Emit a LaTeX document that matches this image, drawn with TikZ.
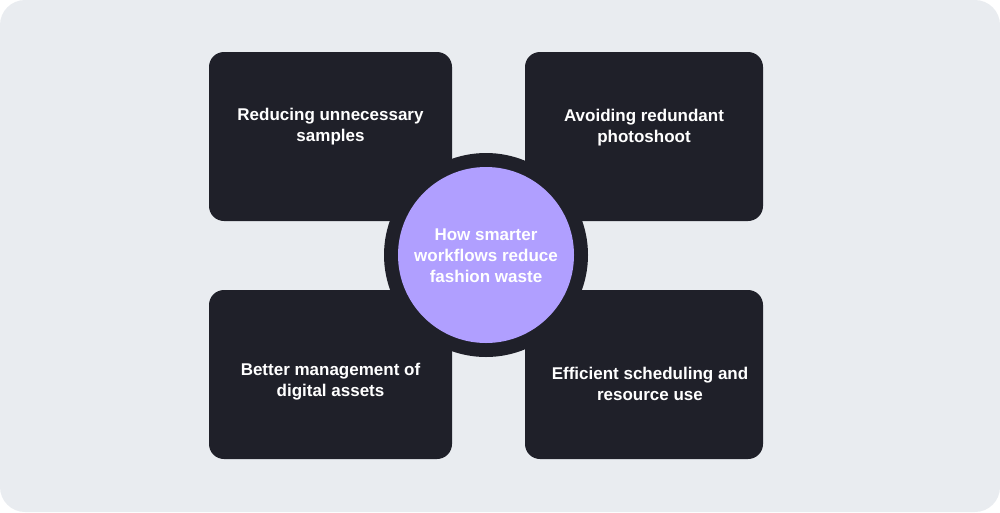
\documentclass[tikz,border=0pt]{standalone}
\usepackage{fontspec}
\setmainfont{Liberation Sans}
\definecolor{bgc}{HTML}{E9ECF0}
\definecolor{boxc}{HTML}{1F2029}
\definecolor{lav}{HTML}{B09FFF}
\begin{document}
\begin{tikzpicture}[x=1pt,y=-1pt,
  card/.style={fill=boxc, rounded corners=15pt, draw=none},
  lbl/.style={text=white, font=\bfseries\fontsize{17}{21}\selectfont, align=center, inner sep=0pt}]
\useasboundingbox (0,0) rectangle (1000,512);
\fill[bgc, rounded corners=25pt] (0,0) rectangle (1000,512);
\path[card] (209,52) rectangle (452,221) node[midway] (b1) {};
\path[card] (525,52) rectangle (763,221) node[midway] (b2) {};
\path[card] (209,290) rectangle (452,459) node[midway] (b3) {};
\path[card] (525,290) rectangle (763,459) node[midway] (b4) {};
\node[lbl] (t1) at (330.5,127) {Reducing unnecessary\\samples};
\node[lbl] (t2) at (644,128) {Avoiding redundant\\photoshoot};
\node[lbl] (t3) at (330.5,381.5) {Better management of\\digital assets};
\node[lbl] (t4) at (650,384) {Efficient scheduling and\\resource use};
\node[circle, fill=boxc, minimum size=204pt, inner sep=0pt] (ring) at (486,255) {};
\node[circle, fill=lav, minimum size=176pt, inner sep=0pt] (core) at (486,255) {};
\node[lbl] (ct) at (486,255.5) {How smarter\\workflows reduce\\fashion waste};
\end{tikzpicture}
\end{document}
